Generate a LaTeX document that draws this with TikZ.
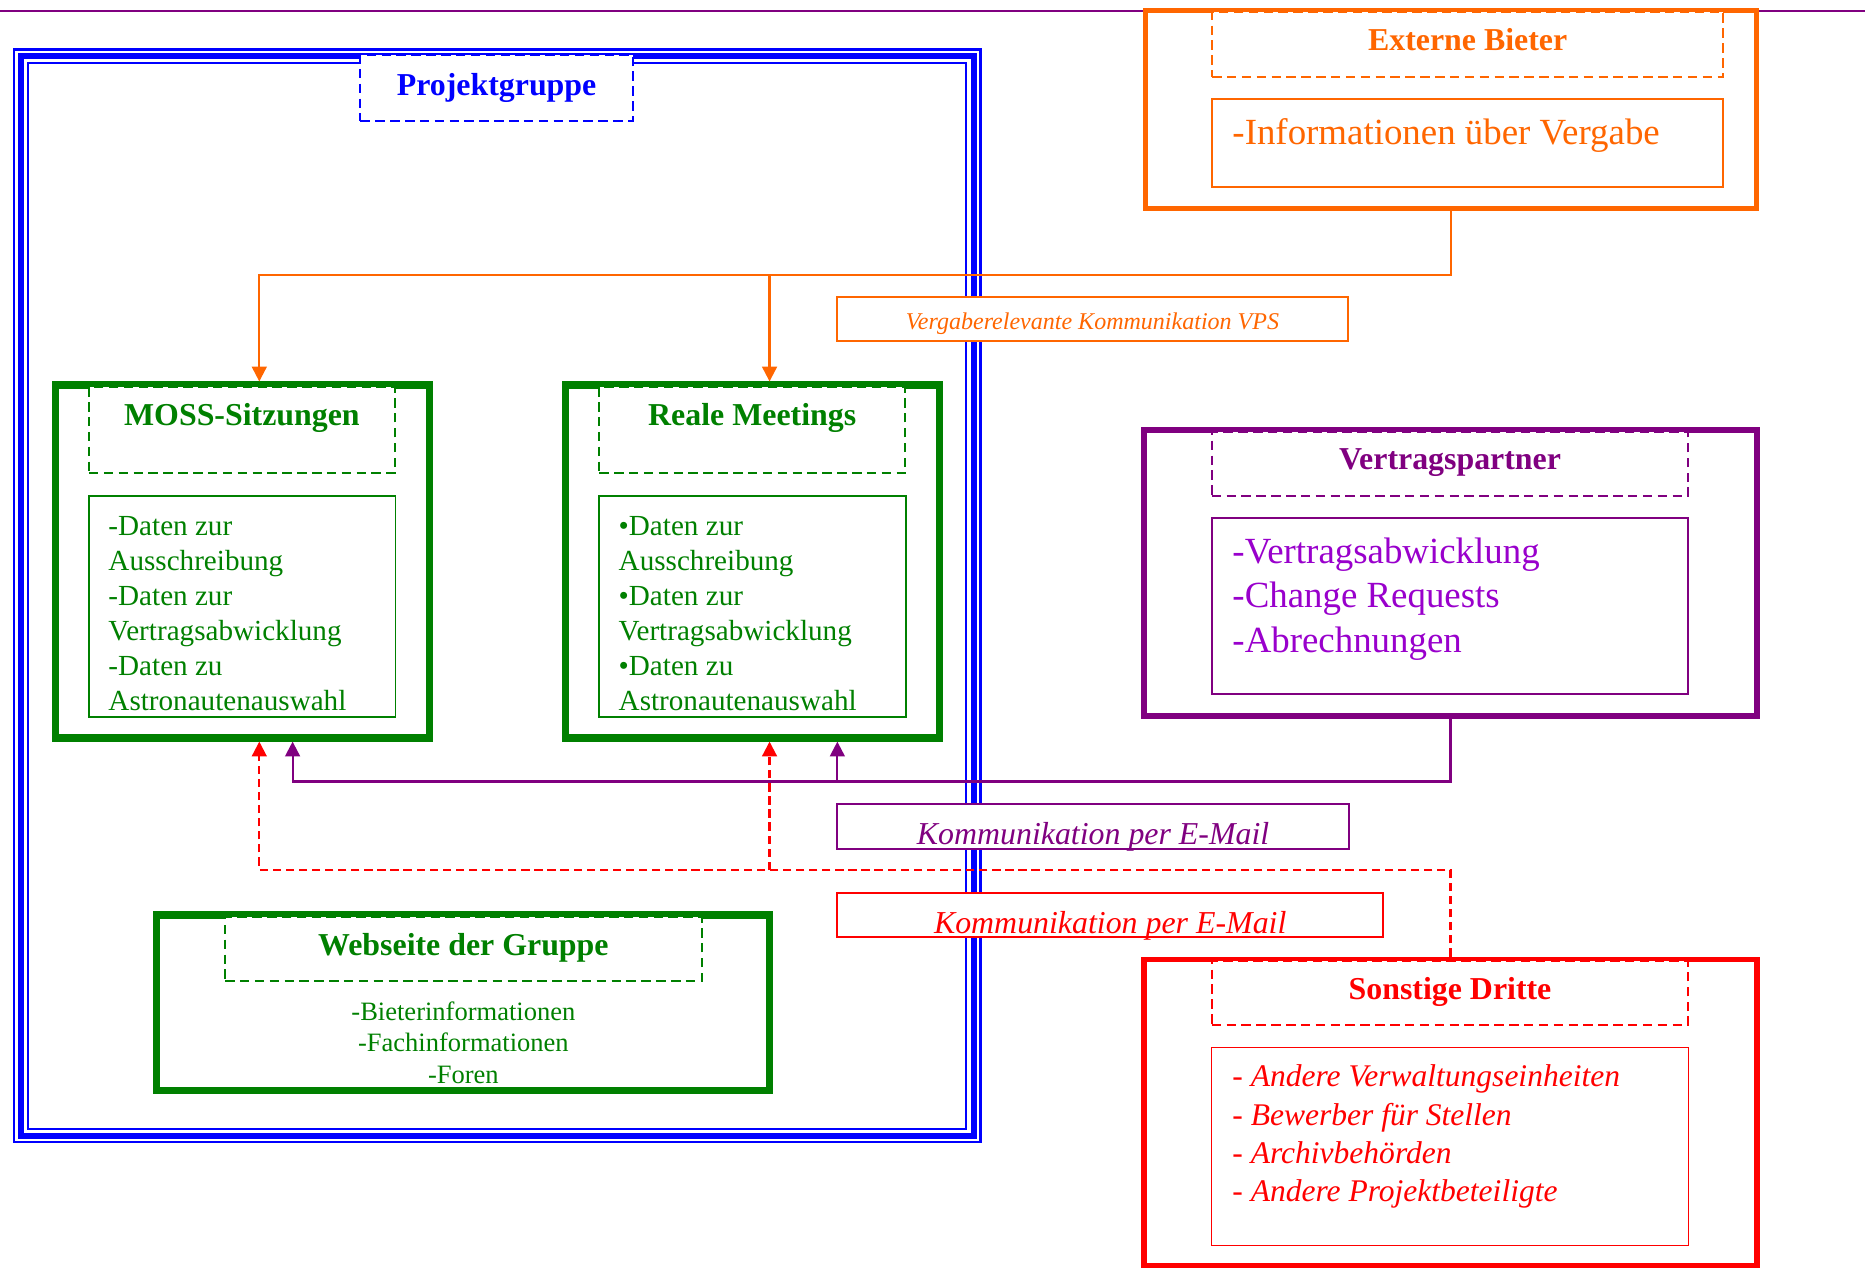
\documentclass[tikz,border=0pt]{standalone}
\usepackage{fontspec}
\setmainfont{Liberation Serif}
\usetikzlibrary{arrows.meta,fit}
\definecolor{grn}{HTML}{008000}
\definecolor{org}{HTML}{FF6600}
\definecolor{prp}{HTML}{800080}
\definecolor{vio}{HTML}{9900CC}
\definecolor{blu}{HTML}{0000FF}
\definecolor{rd}{HTML}{FF0000}
\newcommand{\fTitle}{\fontsize{26.8}{32}\selectfont\bfseries}
\newcommand{\fGreen}{\fontsize{24.5}{29}\selectfont}
\newcommand{\fBig}{\fontsize{31}{37}\selectfont}
\newcommand{\fSon}{\fontsize{26.5}{32}\selectfont\itshape}
\newcommand{\fWeb}{\fontsize{22.3}{27}\selectfont}
\newcommand{\fVps}{\fontsize{20.2}{24}\selectfont\itshape}
\newcommand{\fMail}{\fontsize{26.8}{32}\selectfont\itshape}
\begin{document}
\begin{tikzpicture}[x=1pt,y=-1pt,
  frm/.style={draw=#1, fill=white, inner sep=0pt},
  gfrm/.style={frm=grn, line width=6pt},
  sfrm/.style={frm=#1, line width=4.6pt},
  tbox/.style={draw=#1, fill=white, line width=1.7pt, dash pattern=on 8pt off 4.5pt, inner sep=0pt},
  cbox/.style={draw=#1, line width=1.5pt, inner sep=0pt},
  lbox/.style={draw=#1, fill=white, line width=1.6pt, inner sep=0pt},
  ttl/.style={text=#1, font=\fTitle, anchor=base, inner sep=0pt},
  txt/.style={text=#1, anchor=base west, inner sep=0pt},
  ctxt/.style={text=#1, anchor=base, inner sep=0pt},
  conn/.style={draw=#1, line width=1.8pt, -{Triangle[width=12.5pt,length=12.5pt]}},
]
\useasboundingbox[fill=white] (0,0) rectangle (1568,1066);

% top purple line
\coordinate (tl) at (0,9);
\coordinate (tr) at (1568,9);
\draw[prp, line width=1.5pt] (tl) -- (tr);

% Projektgruppe triple border
\node[draw=blu, line width=2pt, inner sep=0pt, fit={(12,41.5) (824.2,960.1)}] (projekt) {};
\node[draw=blu, line width=4.8pt, inner sep=0pt, fit={(17.8,47.3) (818.7,955.1)}] (projektmid) {};
\node[draw=blu, line width=1.8pt, inner sep=0pt, fit={(23.7,53.2) (812.5,949)}] (projektin) {};
\node[tbox=blu, fit={(303,46.2) (532,101.5)}] (projektt) {};
\node[ttl=blu] (projektl) at (417.5,79.9) {Projektgruppe};

% MOSS-Sitzungen
\node[gfrm, fit={(46.5,323.7) (360.8,620.5)}] (moss) {};
\node[tbox=grn, fit={(74.8,325.2) (332,398)}] (mosst) {};
\node[cbox=grn, fit={(74.5,417) (332.5,602.5)}] (mossc) {};
\node[ttl=grn] (mossl) at (203.4,358) {MOSS-Sitzungen};
\node[txt=grn, font=\fGreen] (moss1) at (91,450) {-Daten zur};
\node[txt=grn, font=\fGreen] (moss2) at (91,479.5) {Ausschreibung};
\node[txt=grn, font=\fGreen] (moss3) at (91,509) {-Daten zur};
\node[txt=grn, font=\fGreen] (moss4) at (91,538.5) {Vertragsabwicklung};
\node[txt=grn, font=\fGreen] (moss5) at (91,568) {-Daten zu};
\node[txt=grn, font=\fGreen] (moss6) at (91,597.5) {Astronautenauswahl};

% Reale Meetings
\node[gfrm, fit={(475.5,323.7) (789.8,620.5)}] (reale) {};
\node[tbox=grn, fit={(503.8,325.2) (761,398)}] (realet) {};
\node[cbox=grn, fit={(503.5,417) (761.5,602.5)}] (realec) {};
\node[ttl=grn] (realel) at (632.4,358) {Reale Meetings};
\node[txt=grn, font=\fGreen] (reale1) at (520,450) {•Daten zur};
\node[txt=grn, font=\fGreen] (reale2) at (520,479.5) {Ausschreibung};
\node[txt=grn, font=\fGreen] (reale3) at (520,509) {•Daten zur};
\node[txt=grn, font=\fGreen] (reale4) at (520,538.5) {Vertragsabwicklung};
\node[txt=grn, font=\fGreen] (reale5) at (520,568) {•Daten zu};
\node[txt=grn, font=\fGreen] (reale6) at (520,597.5) {Astronautenauswahl};

% Webseite der Gruppe
\node[gfrm, fit={(131.9,769.3) (646.7,917)}] (web) {};
\node[tbox=grn, fit={(189.2,770.8) (590.1,824.8)}] (webt) {};
\node[ttl=grn] (webl) at (389.6,803) {Webseite der Gruppe};
\node[ctxt=grn, font=\fWeb] (web1) at (389.6,857.6) {-Bieterinformationen};
\node[ctxt=grn, font=\fWeb] (web2) at (389.6,884.2) {-Fachinformationen};
\node[ctxt=grn, font=\fWeb] (web3) at (389.6,910.8) {-Foren};

% Externe Bieter
\node[sfrm=org, line width=4.4pt, fit={(963,9.1) (1476.6,175.6)}] (bieter) {};
\node[tbox=org, fit={(1019,10.3) (1448.8,64.5)}] (bietert) {};
\node[cbox=org, line width=1.6pt, fit={(1019,83.2) (1448.8,157.5)}] (bieterc) {};
\node[ttl=org] (bieterl) at (1233.9,42.6) {Externe Bieter};
\node[txt=org, font=\fBig] (bieter1) at (1036,121.9) {-Informationen über Vergabe};

% Vertragspartner
\node[sfrm=prp, line width=5pt, fit={(961.8,361.8) (1477.2,602)}] (vertrag) {};
\node[tbox=prp, fit={(1018.7,363.3) (1419.5,417)}] (vertragt) {};
\node[cbox=prp, line width=1.6pt, fit={(1018.7,435.8) (1419.5,583.8)}] (vertragc) {};
\node[ttl=prp] (vertragl) at (1219.1,395) {Vertragspartner};
\node[txt=vio, font=\fBig] (vertrag1) at (1036,473.5) {-Vertragsabwicklung};
\node[txt=vio, font=\fBig] (vertrag2) at (1036,511) {-Change Requests};
\node[txt=vio, font=\fBig] (vertrag3) at (1036,548.5) {-Abrechnungen};

% Sonstige Dritte
\node[sfrm=rd, fit={(962,806.5) (1477,1064.5)}] (sonst) {};
\node[tbox=rd, fit={(1018.7,808) (1419.5,861.8)}] (sonstt) {};
\node[cbox=rd, line width=1pt, fit={(1018.7,880.6) (1419.5,1046.8)}] (sonstc) {};
\node[ttl=rd] (sonstl) at (1219.1,840.2) {Sonstige Dritte};
\node[txt=rd, font=\fSon] (sonst1) at (1036,913.6) {- Andere Verwaltungseinheiten};
\node[txt=rd, font=\fSon] (sonst2) at (1036,945.9) {- Bewerber für Stellen};
\node[txt=rd, font=\fSon] (sonst3) at (1036,978.1) {- Archivbehörden};
\node[txt=rd, font=\fSon] (sonst4) at (1036,1010.3) {- Andere Projektbeteiligte};

% connectors
\coordinate (oa) at (218,231.2);
\coordinate (ob) at (647,231.2);
\draw[conn=org] (bieter.south) |- (oa) -- (oa |- moss.north);
\draw[conn=org] (ob) -- (ob |- reale.north);

\coordinate (pa) at (246,657);
\coordinate (pb) at (704,657);
\draw[conn=prp] (vertrag.south) |- (pa) -- (pa |- moss.south);
\draw[conn=prp] (pb) -- (pb |- reale.south);

\coordinate (ra) at (218,731.5);
\coordinate (rb) at (647,731.5);
\draw[conn=rd, dash pattern=on 7pt off 4pt] (sonst.north) |- (ra) -- (ra |- moss.south);
\draw[conn=rd, dash pattern=on 7pt off 4pt] (rb) -- (rb |- reale.south);

% connector labels
\node[lbox=org, fit={(703.8,250) (1133.3,286.7)}] (vps) {};
\node[ctxt=org, font=\fVps] (vpsl) at (918.5,276.9) {Vergaberelevante Kommunikation VPS};
\node[lbox=prp, fit={(704,676.3) (1134,713.8)}] (pmail) {};
\node[ctxt=prp, font=\fMail] (pmaill) at (919,709.6) {Kommunikation per E-Mail};
\node[lbox=rd, fit={(704,751) (1162.8,787.5)}] (rmail) {};
\node[ctxt=rd, font=\fMail] (rmaill) at (933.4,784.7) {Kommunikation per E-Mail};
\end{tikzpicture}
\end{document}
